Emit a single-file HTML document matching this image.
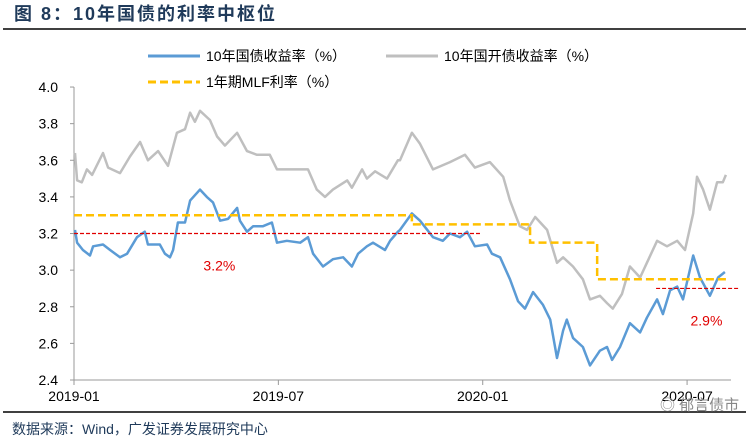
<!DOCTYPE html>
<html><head><meta charset="utf-8"><style>
body{margin:0;background:#fff;width:749px;height:443px;overflow:hidden;font-family:"Liberation Sans","Noto Sans CJK SC",sans-serif}
</style></head><body>
<svg width="749" height="443" viewBox="0 0 749 443" style="position:absolute;left:0;top:0">
<text x="14" y="20" font-size="18" font-weight="bold" fill="#1f3a5a" letter-spacing="2" font-family="Liberation Sans, Noto Sans CJK SC, sans-serif">图 8：10年国债的利率中枢位</text>
<line x1="3" y1="29" x2="746" y2="29" stroke="#000" stroke-width="1.5"/>
<g font-size="14" fill="#000">
<line x1="148" y1="56" x2="200" y2="56" stroke="#5b9bd5" stroke-width="3"/>
<text x="206" y="61">10年国债收益率（%）</text>
<line x1="386" y1="56" x2="438" y2="56" stroke="#bfbfbf" stroke-width="3"/>
<text x="444" y="61">10年国开债收益率（%）</text>
<line x1="148" y1="82" x2="200" y2="82" stroke="#ffc000" stroke-width="3" stroke-dasharray="8,4"/>
<text x="206" y="87">1年期MLF利率（%）</text>
</g>
<g id="axes"></g>
<g id="plot"></g>
<line x1="3" y1="412" x2="746" y2="412" stroke="#000" stroke-width="1.5"/>
<text x="12" y="434" font-size="14" fill="#1f3a5a">数据来源：Wind，广发证券发展研究中心</text>
<text x="660" y="410" font-size="15" fill="#888">◎ 郁言债市</text>
</svg>
<script>
const yTicks=[2.4,2.6,2.8,3.0,3.2,3.4,3.6,3.8,4.0];
const xTickMonths=[0,6,12,18];
const xTickLabels=["2019-01","2019-07","2020-01","2020-07"];
const cgbMonths=[0.03,0.09,0.26,0.47,0.56,0.85,1.06,1.35,1.56,1.85,2.08,2.17,2.52,2.67,2.82,2.91,3.05,3.26,3.41,3.70,3.90,4.08,4.29,4.52,4.79,4.87,5.08,5.26,5.55,5.81,5.96,6.25,6.64,6.87,7.02,7.31,7.60,7.90,8.16,8.34,8.60,8.78,9.13,9.28,9.51,9.57,9.92,10.16,10.54,10.83,11.04,11.33,11.54,11.77,12.13,12.27,12.51,12.80,13.04,13.24,13.48,13.77,13.98,14.18,14.36,14.47,14.65,14.94,15.15,15.44,15.65,15.80,16.03,16.32,16.62,16.82,17.12,17.29,17.50,17.71,17.88,18.03,18.18,18.38,18.67,18.91,19.11];
const cgbValues=[3.22,3.15,3.11,3.08,3.13,3.14,3.11,3.07,3.09,3.18,3.21,3.14,3.14,3.09,3.07,3.11,3.26,3.26,3.38,3.44,3.40,3.37,3.27,3.28,3.34,3.27,3.21,3.24,3.24,3.26,3.15,3.16,3.15,3.18,3.09,3.02,3.06,3.07,3.02,3.09,3.13,3.15,3.11,3.16,3.21,3.22,3.31,3.27,3.18,3.16,3.20,3.18,3.21,3.13,3.14,3.09,3.07,2.95,2.83,2.79,2.88,2.81,2.73,2.52,2.67,2.73,2.63,2.58,2.48,2.56,2.58,2.51,2.58,2.71,2.66,2.74,2.84,2.76,2.89,2.91,2.84,2.96,3.08,2.96,2.86,2.96,2.99];
const cdbMonths=[0.03,0.09,0.23,0.38,0.53,0.85,1.00,1.35,1.64,1.94,2.17,2.47,2.76,3.02,3.26,3.41,3.55,3.70,3.99,4.20,4.43,4.79,5.08,5.37,5.75,5.96,6.34,6.87,7.13,7.37,7.60,8.02,8.16,8.46,8.60,8.84,9.19,9.51,9.57,9.92,10.16,10.54,11.04,11.48,11.77,12.21,12.60,12.80,13.09,13.30,13.54,13.89,14.18,14.36,14.65,14.94,15.15,15.44,15.65,15.82,16.09,16.32,16.62,16.82,17.12,17.41,17.71,17.94,18.18,18.29,18.47,18.67,18.88,19.05,19.14];
const cdbValues=[3.64,3.49,3.48,3.55,3.52,3.64,3.56,3.53,3.62,3.70,3.60,3.65,3.57,3.75,3.77,3.86,3.81,3.87,3.82,3.73,3.68,3.75,3.65,3.63,3.63,3.55,3.55,3.55,3.44,3.40,3.44,3.49,3.45,3.55,3.50,3.54,3.50,3.60,3.60,3.75,3.69,3.55,3.59,3.63,3.56,3.59,3.51,3.38,3.24,3.22,3.29,3.22,3.04,3.07,3.02,2.95,2.84,2.86,2.82,2.79,2.87,3.02,2.96,3.04,3.16,3.13,3.16,3.11,3.31,3.51,3.44,3.33,3.48,3.48,3.52];
const mlfMonths=[0,9.92,13.39,15.36,19.17];
const mlfValues=[3.30,3.25,3.15,2.95,2.95];
const refLevels=[3.2,2.9];
const refStart=[0,17.09];
const refEnd=[11.92,19.55];
const refLabels=["3.2%","2.9%"];
const refLabelMonths=[3.8,18.1];

const X=m=>74+m*34.06;
const Y=v=>380-(v-2.4)*183.1;
const NS="http://www.w3.org/2000/svg";
function mk(tag,attrs,parent){const e=document.createElementNS(NS,tag);for(const k in attrs)e.setAttribute(k,attrs[k]);parent.appendChild(e);return e;}
const axes=document.getElementById('axes'),plot=document.getElementById('plot');
let e=mk('line',{x1:74,y1:Y(4.0),x2:74,y2:380,stroke:'#999'},axes);


e=mk('line',{x1:74,y1:380,x2:731,y2:380,stroke:'#999'},axes);


yTicks.forEach(v=>{
 const t=mk('line',{x1:70,y1:Y(v),x2:74,y2:Y(v),stroke:'#999'},axes);
 
 
 const l=mk('text',{x:58,y:Y(v)+5,'text-anchor':'end','font-size':14,fill:'#000'},axes);
 l.textContent=v.toFixed(1);
 
 
});
xTickMonths.forEach((m,i)=>{
 const t=mk('line',{x1:X(m),y1:380,x2:X(m),y2:385,stroke:'#999'},axes);
 
 
 const l=mk('text',{x:X(m),y:401,'text-anchor':'middle','font-size':14,fill:'#000'},axes);
 l.textContent=xTickLabels[i];
 
 
});
function pts(ms,vs){return ms.map((m,i)=>X(m).toFixed(1)+','+Y(vs[i]).toFixed(1)).join(' ');}
e=mk('polyline',{points:pts(cdbMonths,cdbValues),fill:'none',stroke:'#bfbfbf','stroke-width':2.5,'stroke-linejoin':'round'},plot);


e=mk('polyline',{points:pts(cgbMonths,cgbValues),fill:'none',stroke:'#5b9bd5','stroke-width':2.5,'stroke-linejoin':'round'},plot);


let d='M'+X(mlfMonths[0])+','+Y(mlfValues[0]);
for(let i=1;i<mlfMonths.length;i++){d+=' H'+X(mlfMonths[i])+' V'+Y(mlfValues[i]);}
e=mk('path',{d:d,fill:'none',stroke:'#ffc000','stroke-width':2.5,'stroke-dasharray':'8,4'},plot);


refLevels.forEach((v,i)=>{
 const r=mk('line',{x1:X(refStart[i]),y1:Y(v),x2:X(refEnd[i]),y2:Y(v),stroke:'#e00000','stroke-width':1.2,'stroke-dasharray':'4,2'},plot);
 
 
 const l=mk('text',{x:X(refLabelMonths[i]),y:Y(v)+37,'font-size':14,fill:'#e00000'},plot);
 l.textContent=refLabels[i];
 
 
});
</script>
</body></html>
